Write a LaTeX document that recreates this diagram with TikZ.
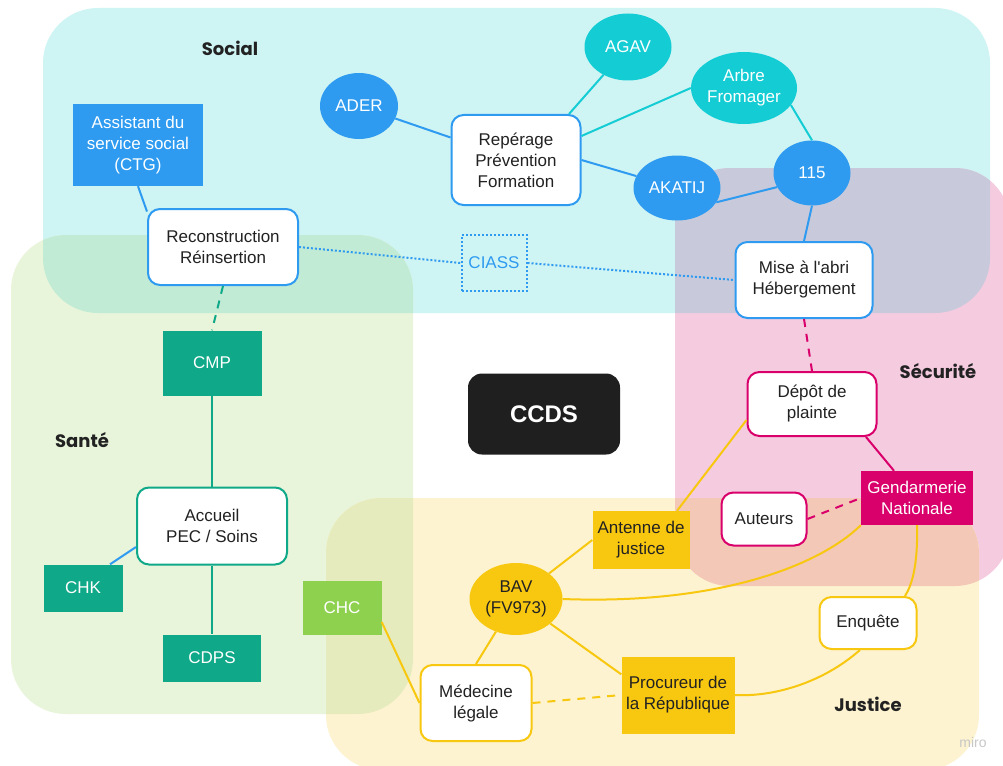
\documentclass[tikz,border=0pt]{standalone}
\usepackage{fontspec}
\setmainfont{Liberation Sans}[Ligatures=TeXOff]
\newfontfamily\headfont{Poppins}
\usetikzlibrary{shapes.geometric}
\definecolor{cyanreg}{HTML}{CFF4F4}
\definecolor{greenreg}{HTML}{E8F5DA}
\definecolor{pinkreg}{HTML}{F5CBE0}
\definecolor{yellowreg}{HTML}{FDF3D0}
\definecolor{cyangreen}{HTML}{C2EBD6}
\definecolor{cyanpink}{HTML}{C8CADB}
\definecolor{pinkyellow}{HTML}{F4C8B6}
\definecolor{greenyellow}{HTML}{E6EBBD}
\definecolor{cblue}{HTML}{2E9BF0}
\definecolor{cteal}{HTML}{14CDD4}
\definecolor{cgreen}{HTML}{0FA888}
\definecolor{clgreen}{HTML}{8ED14F}
\definecolor{cpink}{HTML}{D9006B}
\definecolor{cyellow}{HTML}{F8C70F}
\definecolor{ctext}{HTML}{222222}
\newcommand{\nodefont}{\fontsize{17}{21}\selectfont}
\tikzset{
  lbl/.style={font=\nodefont, align=center, text=ctext, inner sep=0pt},
  wbox/.style={lbl, draw=#1, fill=white, line width=2pt, rounded corners=12pt},
  fbox/.style={lbl, fill=#1, text=white},
  ybox/.style={lbl, fill=cyellow},
  ell/.style={lbl, ellipse, fill=#1, text=white},
  conn/.style={line width=2pt, draw=#1},
  heading/.style={font=\headfont\bfseries\fontsize{18}{22}\selectfont, text=ctext},
}
\begin{document}
\begin{tikzpicture}[x=1pt,y=-1pt]
\useasboundingbox (0,0) rectangle (1003,765);
\fill[white] (0,0) rectangle (1003,765);
% regions
\def\socreg{(43,8) rectangle (990,313)}
\def\sanreg{(11,235) rectangle (413,714)}
\def\secreg{(675,168) rectangle (1010,586)}
\def\jusreg{(326,498) rectangle (979,770)}
\fill[cyanreg, rounded corners=55pt] \socreg;
\fill[greenreg, rounded corners=55pt] \sanreg;
\fill[pinkreg, rounded corners=55pt] \secreg;
\fill[yellowreg, rounded corners=55pt] \jusreg;
\begin{scope}
  \clip[rounded corners=55pt] \socreg;
  \fill[cyangreen, rounded corners=55pt] \sanreg;
  \fill[cyanpink, rounded corners=55pt] \secreg;
\end{scope}
\begin{scope}
  \clip[rounded corners=55pt] \jusreg;
  \fill[pinkyellow, rounded corners=55pt] \secreg;
  \fill[greenyellow, rounded corners=55pt] \sanreg;
\end{scope}
% headings
\node[heading] (hsocial) at (230,48) {Social};
\node[heading] (hsante) at (82,440) {Santé};
\node[heading] (hsecu) at (938,371) {Sécurité};
\node[heading] (hjust) at (868,704) {Justice};
% social nodes
\node[fbox=cblue, minimum width=130pt, minimum height=82pt] (assist) at (138,145) {Assistant du\\service social\\(CTG)};
\node[wbox=cblue, minimum width=150pt, minimum height=76pt] (recon) at (223,247) {Reconstruction\\Réinsertion};
\node[wbox=cblue, minimum width=129pt, minimum height=90pt] (reper) at (516,160) {Repérage\\Prévention\\Formation};
\node[ell=cblue, minimum width=78pt, minimum height=66pt] (ader) at (359,106) {ADER};
\node[ell=cteal, minimum width=87pt, minimum height=67pt] (agav) at (628,47) {AGAV};
\node[ell=cteal, minimum width=106pt, minimum height=72pt] (arbre) at (744,88) {Arbre\\Fromager};
\node[ell=cblue, minimum width=87pt, minimum height=65pt] (akatij) at (677,188) {AKATIJ};
\node[ell=cblue, minimum width=77pt, minimum height=65pt] (n115) at (812,173) {115};
\node[wbox=cblue, minimum width=137pt, minimum height=76pt] (mise) at (804,280) {Mise à l'abri\\Hébergement};
\node[lbl, text=cblue, draw=cblue, line width=2pt, dash pattern=on 2pt off 2pt, minimum width=65pt, minimum height=56pt] (ciass) at (494,263) {CIASS};
% sante nodes
\node[fbox=cgreen, minimum width=99pt, minimum height=65pt] (cmp) at (212,363) {CMP};
\node[wbox=cgreen, minimum width=150pt, minimum height=77pt] (accueil) at (212,526) {Accueil\\PEC / Soins};
\node[fbox=cgreen, minimum width=79pt, minimum height=47pt] (chk) at (83,588) {CHK};
\node[fbox=cgreen, minimum width=98pt, minimum height=47pt] (cdps) at (212,658) {CDPS};
\node[fbox=clgreen, minimum width=79pt, minimum height=54pt] (chc) at (342,608) {CHC};
% center
\node[lbl, fill=ctext!90!black, text=white, rounded corners=14pt, minimum width=152pt, minimum height=81pt, font=\bfseries\fontsize{24}{28}\selectfont] (ccds) at (544,414) {CCDS};
% securite nodes
\node[wbox=cpink, minimum width=129pt, minimum height=64pt] (depot) at (812,404) {Dépôt de\\plainte};
\node[fbox=cpink, minimum width=112pt, minimum height=54pt] (gend) at (917,498) {Gendarmerie\\Nationale};
\node[wbox=cpink, minimum width=85pt, minimum height=53pt] (auteurs) at (764,519) {Auteurs};
% justice nodes
\node[ybox, minimum width=97pt, minimum height=58pt] (antenne) at (641,540) {Antenne de\\justice};
\node[lbl, ellipse, fill=cyellow, minimum width=93pt, minimum height=72pt] (bav) at (516,599) {BAV\\(FV973)};
\node[wbox=cyellow, minimum width=111pt, minimum height=76pt] (medecine) at (476,703) {Médecine\\légale};
\node[ybox, minimum width=113pt, minimum height=77pt] (procureur) at (678,695) {Procureur de\\la République};
\node[wbox=cyellow, minimum width=97pt, minimum height=52pt] (enquete) at (868,623) {Enquête};
% watermark
\node[font=\fontsize{14}{16}\selectfont, text=black!22] (miro) at (973,742) {miro};
% connectors social
\draw[conn=cblue] (assist.south) -- (recon.155);
\draw[conn=cblue] (ader) -- (reper);
\draw[conn=cteal] ([xshift=53pt]reper.north) -- (agav);
\draw[conn=cteal] ([yshift=24pt]reper.east) -- (arbre.west);
\draw[conn=cblue] (reper.east) -- (akatij);
\draw[conn=cblue] (akatij.-20) -- (n115.202);
\draw[conn=cteal] (arbre.-20) -- (n115.north);
\draw[conn=cblue] (n115.south) -- (mise.north);
\draw[conn=cblue, dash pattern=on 2pt off 2pt] (recon.east) -- (ciass.west);
\draw[conn=cblue, dash pattern=on 2pt off 2pt] (ciass.east) -- (mise.west);
\draw[conn=cgreen, dash pattern=on 8pt off 7pt] (recon.south) -- (cmp.north);
% connectors sante
\draw[conn=cgreen] (cmp.south) -- (accueil.north);
\draw[conn=cgreen] (accueil.south) -- (cdps.north);
\draw[conn=cblue] ([xshift=27pt]chk.north) -- ([yshift=-21pt]accueil.west);
\draw[conn=cyellow] ([yshift=-14pt]chc.east) -- (medecine.west);
% connectors securite
\draw[conn=cpink, dash pattern=on 8pt off 7pt] (mise.south) -- (depot.north);
\draw[conn=cpink] ([xshift=54pt]depot.south) -- ([xshift=-23pt]gend.north);
\draw[conn=cpink, dash pattern=on 8pt off 7pt] (auteurs.east) -- (gend.west);
% connectors justice
\draw[conn=cyellow] ([yshift=-16pt]depot.west) -- ([xshift=36pt]antenne.north);
\draw[conn=cyellow] (bav) -- (antenne.west);
\draw[conn=cyellow] (bav.east) .. controls (720,605) and (820,565) .. (gend.south west);
\draw[conn=cyellow] (gend.south) .. controls (918,565) and (912,585) .. ([xshift=37pt]enquete.north);
\draw[conn=cyellow] ([xshift=-8pt]enquete.south) .. controls (820,685) and (770,697) .. (procureur.east);
\draw[conn=cyellow] (bav) -- (procureur.160);
\draw[conn=cyellow] (bav) -- (medecine.north);
\draw[conn=cyellow, dash pattern=on 8pt off 7pt] (medecine.east) -- (procureur.west);
\end{tikzpicture}
\end{document}
